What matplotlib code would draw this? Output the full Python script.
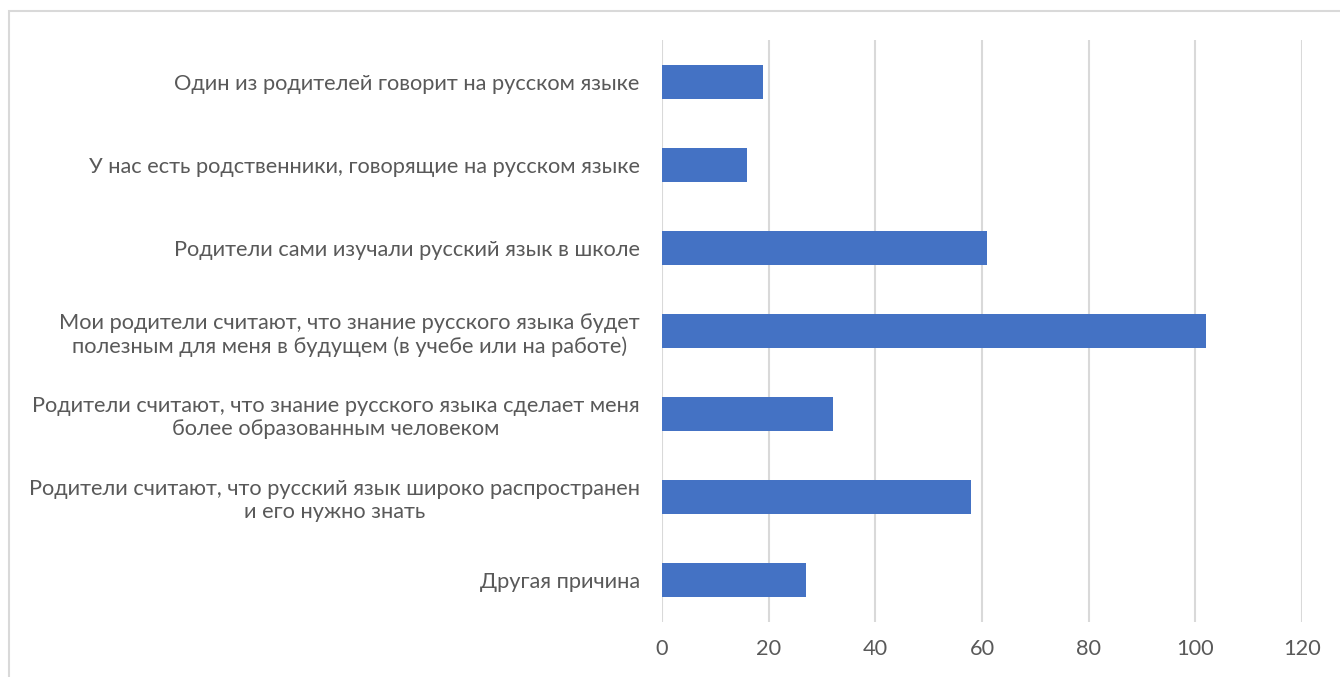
import matplotlib
matplotlib.use("Agg")
import matplotlib.pyplot as plt
from matplotlib.patches import Rectangle

plt.rcParams['font.family'] = ['Lato', 'DejaVu Sans']

categories = [
    "Один из родителей говорит на русском языке",
    "У нас есть родственники, говорящие на русском языке",
    "Родители сами изучали русский язык в школе",
    "Мои родители считают, что знание русского языка будет\nполезным для меня в будущем (в учебе или на работе)",
    "Родители считают, что знание русского языка сделает меня\nболее образованным человеком",
    "Родители считают, что русский язык широко распространен\nи его нужно знать",
    "Другая причина",
]
values = [19, 16, 61, 102, 32, 58, 27]
xticks = [0, 20, 40, 60, 80, 100, 120]

W, H = 1340, 677
fig = plt.figure(figsize=(W / 100, H / 100), dpi=100)

# chart frame (Excel style)
fig.patches.append(Rectangle((9 / W, -0.1), 1.2, 1 - 11 / H + 0.1,
                             transform=fig.transFigure, fill=False,
                             edgecolor="#d9d9d9", linewidth=1.5))

ax = fig.add_axes([662 / W, 1 - 622 / H, (1302 - 662) / W, (622 - 40) / H])

ypos = list(range(len(categories)))
ax.barh(ypos, values, height=0.41, color="#4472C4", zorder=3)
ax.set_ylim(len(categories) - 0.5, -0.5)
ax.set_xlim(0, 120)
ax.set_xticks(xticks)
ax.set_xticklabels([str(t) for t in xticks])
ax.set_yticks(ypos)
ax.set_yticklabels(categories, multialignment="center", linespacing=1.2)

ax.grid(axis="x", color="#d9d9d9", linewidth=1.5, zorder=0)
for s in ax.spines.values():
    s.set_visible(False)
ax.tick_params(axis="both", length=0, colors="#595959", labelsize=15.7)
ax.tick_params(axis="y", pad=16)
ax.tick_params(axis="x", pad=12)

fig.savefig("out.png", dpi=100)
